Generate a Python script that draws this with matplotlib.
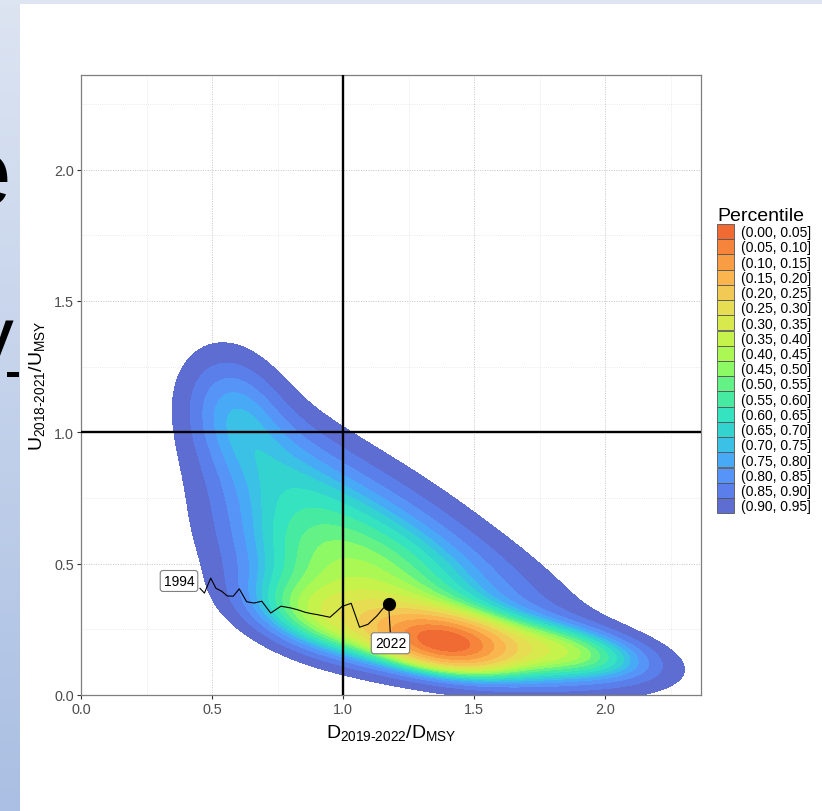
import numpy as np
import matplotlib.pyplot as plt
from matplotlib.patches import Patch, Rectangle
from matplotlib.colors import LinearSegmentedColormap

plt.rcParams['font.family'] = ['Liberation Sans', 'DejaVu Sans']
plt.rcParams['mathtext.fontset'] = 'custom'
plt.rcParams['mathtext.rm'] = 'Liberation Sans'
plt.rcParams['mathtext.it'] = 'Liberation Sans'
plt.rcParams['mathtext.bf'] = 'Liberation Sans:bold'

# percentile bins, highest density first
bins = ["(0.00, 0.05]", "(0.05, 0.10]", "(0.10, 0.15]", "(0.15, 0.20]", "(0.20, 0.25]",
        "(0.25, 0.30]", "(0.30, 0.35]", "(0.35, 0.40]", "(0.40, 0.45]", "(0.45, 0.50]",
        "(0.50, 0.55]", "(0.55, 0.60]", "(0.60, 0.65]", "(0.65, 0.70]", "(0.70, 0.75]",
        "(0.75, 0.80]", "(0.80, 0.85]", "(0.85, 0.90]", "(0.90, 0.95]"]
bin_upper = [0.05, 0.10, 0.15, 0.20, 0.25, 0.30, 0.35, 0.40, 0.45, 0.50,
             0.55, 0.60, 0.65, 0.70, 0.75, 0.80, 0.85, 0.90, 0.95]
bin_colors = ["#F06A34", "#F6843A", "#F99D45", "#FBB54E", "#F2C955", "#E6DD52", "#D8E94D",
              "#C6F24C", "#ABF753", "#8CF965", "#64F286", "#46EAA0", "#35E3C0", "#33D3CF",
              "#3BC0E6", "#48AAF6", "#5694F8", "#5B7FEA", "#5E6DD2"]

# posterior density of (D/Dmsy, U/Umsy), summarised as kernels
kern_x = [1.39, 1.35, 1.12, 0.95, 0.72, 0.58, 1.85, 0.86, 1.45]
kern_y = [0.20, 0.22, 0.40, 0.60, 0.88, 1.10, 0.17, 0.30, 0.50]
kern_sx = [0.13, 0.30, 0.30, 0.28, 0.20, 0.13, 0.22, 0.17, 0.45]
kern_sy = [0.055, 0.10, 0.17, 0.22, 0.20, 0.16, 0.07, 0.10, 0.30]
kern_rho = [-0.3, -0.55, -0.45, -0.35, -0.35, -0.2, -0.45, -0.4, -0.85]
kern_w = [0.12, 0.24, 0.20, 0.16, 0.06, 0.04, 0.06, 0.03, 0.10]

# stock trajectory 1994-2022
years = list(range(1994, 2023))
traj_d = [0.454, 0.471, 0.495, 0.515, 0.537, 0.558, 0.581, 0.604, 0.632, 0.660,
          0.690, 0.724, 0.763, 0.802, 0.828, 0.855, 0.878, 0.901, 0.926, 0.950,
          0.973, 0.996, 1.031, 1.063, 1.095, 1.112, 1.129, 1.154, 1.174]
traj_u = [0.406, 0.388, 0.445, 0.406, 0.395, 0.377, 0.376, 0.404, 0.355, 0.350,
          0.357, 0.312, 0.338, 0.331, 0.324, 0.315, 0.310, 0.306, 0.301, 0.296,
          0.316, 0.337, 0.349, 0.258, 0.269, 0.285, 0.301, 0.331, 0.345]

# density grid
gx = np.linspace(-0.5, 3.2, 741)
gy = np.linspace(-0.5, 2.6, 621)
X, Y = np.meshgrid(gx, gy)
Z = np.zeros_like(X)
for mx, my, sx, sy, r, w in zip(kern_x, kern_y, kern_sx, kern_sy, kern_rho, kern_w):
    dx = (X - mx) / sx
    dy = (Y - my) / sy
    q = (dx**2 - 2 * r * dx * dy + dy**2) / (1 - r**2)
    Z += w * np.exp(-0.5 * q) / (2 * np.pi * sx * sy * np.sqrt(1 - r**2))

zs = np.sort(Z.ravel())[::-1]
cum = np.cumsum(zs) / zs.sum()
thresh = [zs[np.searchsorted(cum, p)] for p in bin_upper]
levels = thresh[::-1] + [Z.max() * 1.01]

fig = plt.figure(figsize=(8.22, 8.12), dpi=100)

# slide background strips
fig.patches.append(Rectangle((0, 1 - 5 / 812), 1, 5 / 812, transform=fig.transFigure,
                             facecolor="#DDE5F2", edgecolor="none", zorder=-5))
strip = fig.add_axes([0, 0, 19 / 822, 1 - 5 / 812])
strip.imshow(np.linspace(0, 1, 200).reshape(-1, 1), aspect="auto", extent=[0, 19, 0, 807],
             cmap=LinearSegmentedColormap.from_list("slide", ["#DCE4F2", "#AABFE3"]))
strip.set_xlim(0, 19)
strip.set_ylim(0, 807)
strip.axis("off")
strip.text(12, 807 - 200, "e", fontsize=68, ha="right", va="baseline", color="black")
strip.text(14, 807 - 360, "y", fontsize=60, ha="right", va="baseline", color="black")
strip.add_patch(Rectangle((7, 807 - 373), 14, 5, facecolor="black", edgecolor="none"))

ax = fig.add_axes([81 / 822, 116 / 812, 620 / 822, 620 / 812])
ax.contourf(X, Y, Z, levels=levels, colors=bin_colors[::-1], zorder=2)

ax.axvline(1.0, color="black", lw=1.7, zorder=3)
ax.axhline(1.0, color="black", lw=1.7, zorder=3)

ax.plot(traj_d, traj_u, color="black", lw=0.8, zorder=4)
ax.plot(traj_d[-1], traj_u[-1], "o", color="black", ms=8.5, zorder=5)

box = dict(boxstyle="round,pad=0.25,rounding_size=0.2", fc="white", ec="#808080", lw=0.8)
ax.text(0.374, 0.434, str(years[0]), fontsize=10, ha="center", va="center", bbox=box, zorder=6)
ax.plot([traj_d[-1], 1.181], [traj_u[-1], 0.226], color="black", lw=0.8, zorder=4)
ax.text(1.181, 0.197, str(years[-1]), fontsize=10, ha="center", va="center", bbox=box, zorder=6)

ax.set_xlim(0, 2.366)
ax.set_ylim(0, 2.36)
ticks = [0.0, 0.5, 1.0, 1.5, 2.0]
ax.set_xticks(ticks)
ax.set_yticks(ticks)
ax.set_xticklabels([f"{t:.1f}" for t in ticks])
ax.set_yticklabels([f"{t:.1f}" for t in ticks])
ax.set_xticks([0.25, 0.75, 1.25, 1.75, 2.25], minor=True)
ax.set_yticks([0.25, 0.75, 1.25, 1.75, 2.25], minor=True)
ax.tick_params(which="major", length=3, width=0.8, color="#333333", labelsize=10.4,
               labelcolor="#4D4D4D", pad=2)
ax.tick_params(which="minor", length=0)
ax.grid(which="major", color="#C4C4C4", lw=0.7, ls=(0, (1, 1.5)), zorder=0)
ax.grid(which="minor", color="#E4E4E4", lw=0.6, ls=(0, (1, 1.5)), zorder=0)
ax.set_axisbelow(True)
for s in ax.spines.values():
    s.set_color("#7F7F7F")
    s.set_linewidth(0.9)

ax.set_xlabel(r"$D_{\text{2019-2022}}/D_{MSY}$", fontsize=14)
ax.xaxis.set_label_coords(0.5, -37 / 620)
ax.xaxis.label.set_va("center")
ax.set_ylabel(r"$U_{\text{2018-2021}}/U_{MSY}$", fontsize=14)
ax.yaxis.set_label_coords(-44 / 620, 0.5)
ax.yaxis.label.set_va("center")

handles = [Patch(facecolor=c, edgecolor="#555555", lw=0.6) for c in bin_colors]
leg = fig.legend(handles, bins, title="Percentile", loc="upper left",
                 bbox_to_anchor=(717 / 822, 1 - 208 / 812), frameon=False, fontsize=10,
                 title_fontsize=14, handlelength=1.25, handleheight=1.3, labelspacing=0,
                 handletextpad=0.5, borderpad=0, borderaxespad=0, alignment="left")

fig.savefig("out.png", dpi=100)
